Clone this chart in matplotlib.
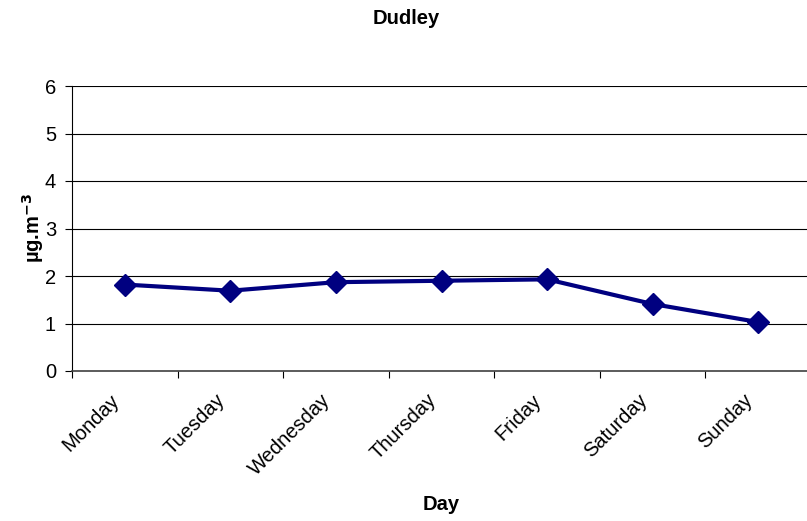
import matplotlib
matplotlib.use("Agg")
import matplotlib.pyplot as plt
from matplotlib.transforms import ScaledTranslation

days = ["Monday", "Tuesday", "Wednesday", "Thursday", "Friday", "Saturday", "Sunday"]
values = [1.82, 1.69, 1.87, 1.90, 1.93, 1.41, 1.03]
yticks = [0, 1, 2, 3, 4, 5, 6]

plt.rcParams['font.family'] = ['Liberation Sans', 'DejaVu Sans']

W, H = 807, 521
fig = plt.figure(figsize=(W / 100, H / 100), dpi=100)
left, right, top, bottom = 72, 811, 86, 371
ax = fig.add_axes([left / W, 1 - bottom / H, (right - left) / W, (bottom - top) / H])

x = list(range(len(days)))
ax.plot(x, values, color="#000080", linewidth=3, marker="D", markersize=11,
        markerfacecolor="#000080", markeredgecolor="#000080", zorder=3)

ax.set_xlim(-0.5, len(days) - 0.5)
ax.set_ylim(0, 6)
ax.set_yticks(yticks)
ax.set_yticklabels([str(v) for v in yticks], fontsize=14.5)
for v in yticks[1:]:
    ax.axhline(v, color="black", linewidth=0.8, zorder=1)

ax.set_xticks([i - 0.5 for i in range(len(days) + 1)], minor=False)
ax.set_xticklabels([""] * (len(days) + 1))
ax.set_xticks(x, minor=True)
ax.set_xticklabels(days, minor=True, rotation=45, ha="right", rotation_mode="anchor", fontsize=14.5)
ax.tick_params(axis="x", which="minor", length=0, pad=14)
ax.tick_params(axis="x", which="major", length=5, width=0.8, direction="out")
ax.tick_params(axis="y", length=5, width=0.8, direction="out", pad=6.5)
shift = ScaledTranslation(-15 / 100, 0, fig.dpi_scale_trans)
for lab in ax.get_xticklabels(minor=True):
    lab.set_transform(lab.get_transform() + shift)

for s in ["top", "right"]:
    ax.spines[s].set_visible(False)
ax.spines["left"].set_color("black")
ax.spines["bottom"].set_color("#404040")
ax.spines["bottom"].set_linewidth(1.2)

fig.text(406 / W, 1 - 19 / H, "Dudley", ha="center", va="center", fontsize=14.5, fontweight="bold")
fig.text(441 / W, 1 - 505 / H, "Day", ha="center", va="center", fontsize=14.5, fontweight="bold")
fig.text(33 / W, 1 - 228 / H, r"µg.m$^{\mathbf{-3}}$", ha="center", va="center", rotation=90,
         fontsize=14.5, fontweight="bold")

fig.savefig("out.png", dpi=100)
